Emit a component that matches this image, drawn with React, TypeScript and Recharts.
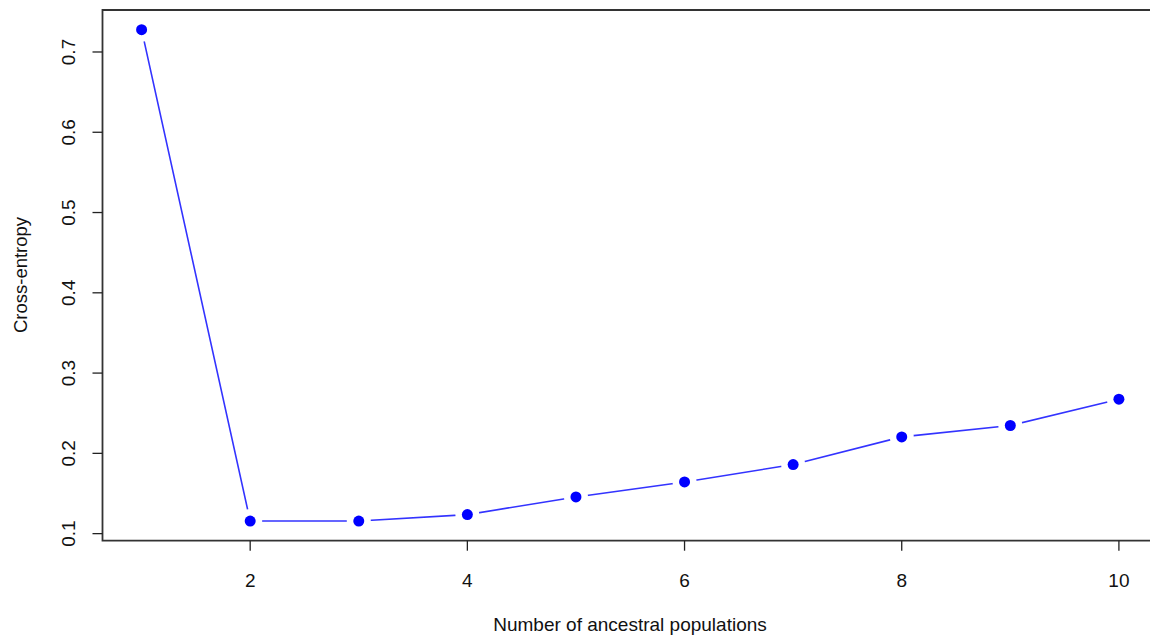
import { LineChart, Line, XAxis, YAxis, ReferenceArea, Label } from "recharts";

const populations = [1, 2, 3, 4, 5, 6, 7, 8, 9, 10];
const crossEntropy = [0.7278, 0.1157, 0.1157, 0.1237, 0.1457, 0.1644, 0.1861, 0.2205, 0.2347, 0.2675];
const xTicks = [2, 4, 6, 8, 10];
const yTicks = [0.1, 0.2, 0.3, 0.4, 0.5, 0.6, 0.7];

const data = populations.map((k, i) => ({ k, value: crossEntropy[i] }));

const FONT = "'Liberation Sans', Arial, sans-serif";
const X_DOMAIN: [number, number] = [0.64, 10.36];
const Y_DOMAIN: [number, number] = [0.0912, 0.7523];

const XTick = (props: any) => {
  const { x, y, payload } = props;
  return (
    <text x={x} y={y + 34} textAnchor="middle" fontFamily={FONT} fontSize={19} fill="#111">
      {payload.value}
    </text>
  );
};

const YTick = (props: any) => {
  const { y, payload } = props;
  return (
    <text
      x={75}
      y={y}
      transform={`rotate(-90, 75, ${y})`}
      textAnchor="middle"
      fontFamily={FONT}
      fontSize={19}
      fill="#111"
    >
      {payload.value}
    </text>
  );
};

// R's type="b": points with a gap in the line around each one
const GapDot = (props: any) => {
  const { cx, cy, index } = props;
  return (
    <g key={index}>
      <circle cx={cx} cy={cy} r={12} fill="#fff" />
      <circle cx={cx} cy={cy} r={5.5} fill="#0000ff" />
    </g>
  );
};

export default function App() {
  return (
    <div style={{ position: "fixed", left: 0, top: 0, width: 1150, height: 641, overflow: "hidden", background: "#fff" }}>
      <LineChart width={1158} height={641} data={data} margin={{ top: 10, right: 0, bottom: 0, left: 0 }}>
        <XAxis
          dataKey="k"
          type="number"
          domain={X_DOMAIN}
          ticks={xTicks}
          allowDataOverflow
          axisLine={false}
          tickLine={{ stroke: "#222", strokeWidth: 1.3 }}
          tickSize={10}
          tick={<XTick />}
          height={100.3}
        >
          <Label
            content={() => (
              <text x={630} y={631} textAnchor="middle" fontFamily={FONT} fontSize={19} fill="#111">
                Number of ancestral populations
              </text>
            )}
          />
        </XAxis>
        <YAxis
          type="number"
          domain={Y_DOMAIN}
          ticks={yTicks}
          allowDataOverflow
          axisLine={false}
          tickLine={{ stroke: "#222", strokeWidth: 1.3 }}
          tickSize={10}
          tick={<YTick />}
          width={102.5}
        >
          <Label
            content={() => (
              <text
                x={27}
                y={275}
                transform="rotate(-90, 27, 275)"
                textAnchor="middle"
                fontFamily={FONT}
                fontSize={18.5}
                fill="#111"
              >
                Cross-entropy
              </text>
            )}
          />
        </YAxis>
        <Line
          dataKey="value"
          stroke="#3333ff"
          strokeWidth={1.6}
          dot={<GapDot />}
          activeDot={false}
          isAnimationActive={false}
        />
        <ReferenceArea
          x1={X_DOMAIN[0]}
          x2={X_DOMAIN[1]}
          y1={Y_DOMAIN[0]}
          y2={Y_DOMAIN[1]}
          fill="none"
          fillOpacity={0}
          stroke="#333"
          strokeWidth={1.8}
          ifOverflow="visible"
        />
      </LineChart>
    </div>
  );
}
